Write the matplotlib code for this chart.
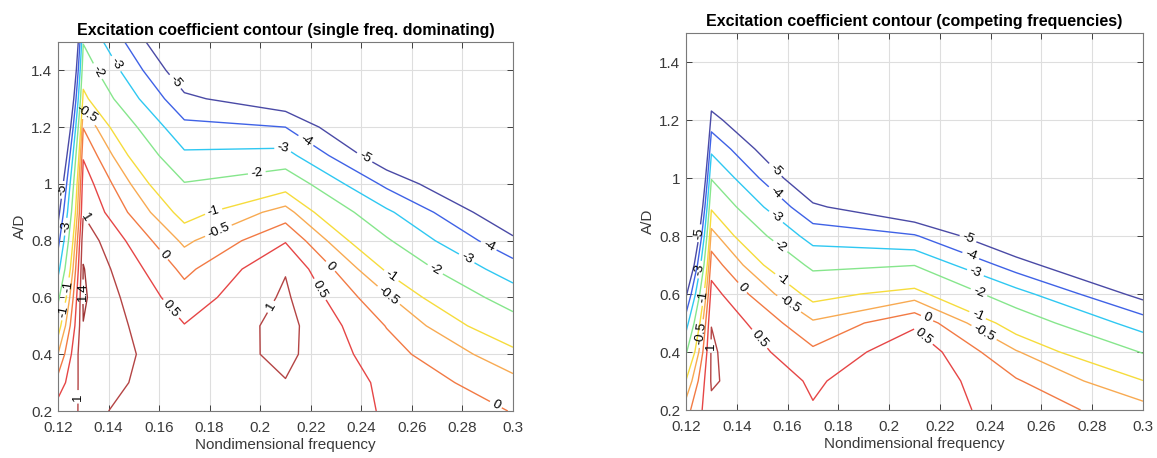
"""Excitation coefficient contours over nondimensional frequency and A/D."""

import matplotlib
matplotlib.use('Agg')
import matplotlib.pyplot as plt
import numpy as np
from matplotlib.ticker import FuncFormatter

plt.rcParams['font.family'] = ['Liberation Sans', 'DejaVu Sans']

freq = [0.12, 0.13, 0.17, 0.21, 0.25, 0.30]
amp_ratio = [0.2, 0.3, 0.4, 0.5, 0.6, 0.7, 0.8, 0.9, 1.0, 1.1, 1.2, 1.3, 1.4, 1.5]
levels = [-5, -4, -3, -2, -1, -0.5, 0, 0.5, 1, 1.4]
level_colors = ['#4a4aa6', '#3f62e6', '#2fc8f2', '#86e68c', '#f6dc3c',
                '#f8aa52', '#f27a44', '#e64646', '#b44444', '#9e3636']

# single freq. dominating: one column per frequency, A/D from 0.2 to 1.5
single_012 = [0.75, 0.2, -0.5, -1.3, -2.2, -3.3, -4.35, -5.4, -6.5, -8.0, -10.0, -12.0, -14.5, -17.0]
single_013 = [1.067, 1.205, 1.387, 1.39, 1.45, 1.42, 1.3, 0.97, 0.78, 0.45, -0.02, -0.8, -1.4, -2.05]
single_017 = [0.8, 0.75, 0.65, 0.52, 0.22, -0.125, -0.61, -1.24, -1.95, -2.82, -3.73, -4.78, -5.8, -6.8]
single_021 = [0.85, 0.98, 1.117, 1.163, 1.08, 0.97, 0.465, -0.28, -1.28, -2.65, -4.0, -5.8, -7.0, -8.2]
single_025 = [0.46, 0.41, 0.2, -0.02, -0.42, -1.08, -1.88, -2.81, -4.23, -5.8, -7.0, -8.2, -9.4, -10.6]
single_030 = [-0.02, -0.35, -0.82, -1.55, -2.45, -3.53, -4.79, -6.0, -7.2, -8.4, -9.6, -10.8, -12.0, -13.2]

# competing frequencies
comp_012 = [-0.2, -0.97, -2.1, -3.4, -5.2, -7.5, -10.0, -12.5, -15.0, -17.5, -20.0, -22.5, -25.0, -27.5]
comp_013 = [0.9, 1.05, 1.06, 0.99, 0.7, 0.27, -0.3, -1.08, -2.05, -3.2, -4.55, -6.0, -7.2, -8.4]
comp_017 = [0.53, 0.44, 0.1, -0.42, -1.22, -2.2, -3.4, -4.8, -6.2, -7.4, -8.6, -9.8, -11.0, -12.2]
comp_021 = [0.76, 0.876, 0.855, 0.41, -0.75, -2.02, -3.9, -6.2, -7.5, -8.7, -9.9, -11.1, -12.3, -13.5]
comp_025 = [0.3, 0.05, -0.45, -1.35, -2.6, -4.5, -6.3, -7.8, -9.0, -10.2, -11.4, -12.6, -13.8, -15.0]
comp_030 = [-0.29, -0.98, -2.05, -3.45, -5.4, -7.2, -9.0, -10.8, -12.6, -14.4, -16.2, -18.0, -19.8, -21.6]

# where the contour labels sit (roughly as in the original figure)
single_label_pos = [
    (0.165, 1.35), (0.1419, 1.418), (0.1353, 1.395), (0.1313, 1.248),
    (0.2091, 1.125), (0.2177, 1.148), (0.2414, 1.095), (0.1986, 1.043),
    (0.1814, 0.908), (0.1828, 0.849), (0.1623, 0.755), (0.165, 0.562),
    (0.2019, 0.579), (0.2902, 0.779), (0.2817, 0.738), (0.2691, 0.697),
    (0.252, 0.679), (0.2513, 0.614), (0.2276, 0.708), (0.2243, 0.632),
    (0.2935, 0.227), (0.121, 0.98), (0.1225, 0.85), (0.1325, 0.89),
    (0.123, 0.64), (0.1225, 0.55), (0.1305, 0.62), (0.1275, 0.25),
]
comp_label_pos = [
    (0.1538, 1.016), (0.1544, 0.941), (0.155, 0.861), (0.157, 0.763),
    (0.1577, 0.648), (0.1603, 0.562), (0.1426, 0.625), (0.1492, 0.447),
    (0.2306, 0.78), (0.232, 0.729), (0.2339, 0.671), (0.2352, 0.602),
    (0.2346, 0.522), (0.2372, 0.464), (0.2149, 0.516), (0.2129, 0.447),
    (0.1248, 0.81), (0.1261, 0.683), (0.1261, 0.591), (0.1255, 0.464),
    (0.1305, 0.42),
]

TEXT = '#262626'


def fmt_g(v, _pos=None):
    return f'{v:g}'


def draw_panel(ax, columns, title, label_pos):
    z = np.column_stack(columns)
    cs = ax.contour(freq, amp_ratio, z, levels=levels, colors=level_colors, linewidths=1.0)
    ax.clabel(cs, manual=label_pos, inline=True, inline_spacing=3, fontsize=9.5,
              fmt=fmt_g, colors='black')

    ax.set_xlim(0.12, 0.30)
    ax.set_ylim(0.2, 1.5)
    ax.set_xticks(np.arange(0.12, 0.301, 0.02))
    ax.set_yticks(np.arange(0.2, 1.41, 0.2))
    ax.xaxis.set_major_formatter(FuncFormatter(lambda v, p: f'{round(v, 2):g}'))
    ax.yaxis.set_major_formatter(FuncFormatter(lambda v, p: f'{round(v, 1):g}'))
    ax.tick_params(direction='in', top=True, right=True, length=4, width=0.6,
                   color=TEXT, labelcolor='#3a3a3a', labelsize=11)
    ax.tick_params(axis='x', pad=7)
    ax.tick_params(axis='y', pad=4)
    ax.grid(True, color='#dedede', linewidth=0.8)
    ax.set_axisbelow(True)
    for sp in ax.spines.values():
        sp.set_color('#7a7a7a')
        sp.set_linewidth(0.8)

    ax.set_xlabel('Nondimensional frequency', fontsize=11, color='#3a3a3a', labelpad=2)
    ax.set_ylabel('A/D', fontsize=11, color='#3a3a3a', labelpad=3)
    ax.set_title(title, fontsize=11.5, fontweight='bold', pad=5)


def main():
    fig = plt.figure(figsize=(11.57, 4.58), dpi=100)
    ax1 = fig.add_axes([0.0501, 0.1026, 0.3933, 0.8057])
    ax2 = fig.add_axes([0.5929, 0.1048, 0.3950, 0.8231])

    draw_panel(ax1, [single_012, single_013, single_017, single_021, single_025, single_030],
               'Excitation coefficient contour (single freq. dominating)', single_label_pos)
    draw_panel(ax2, [comp_012, comp_013, comp_017, comp_021, comp_025, comp_030],
               'Excitation coefficient contour (competing frequencies)', comp_label_pos)

    fig.savefig('out.png', dpi=100)
    plt.close(fig)


if __name__ == '__main__':
    main()
